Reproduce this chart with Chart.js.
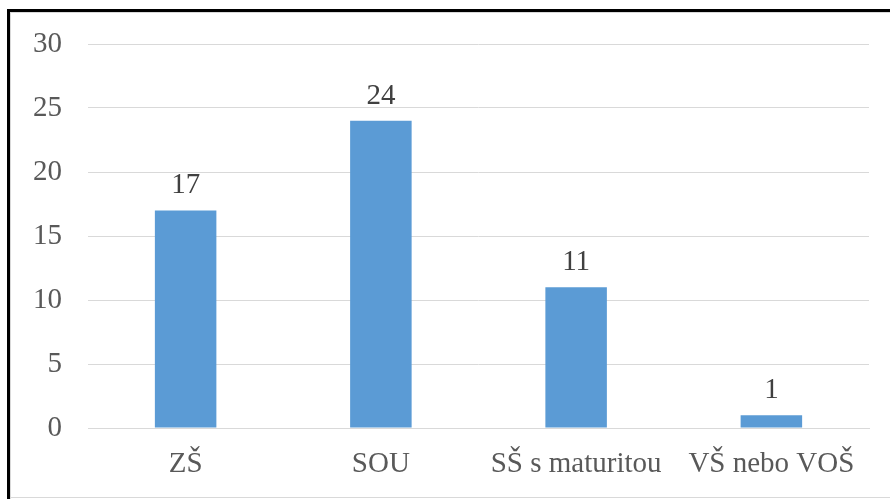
<!DOCTYPE html>
<html>
<head>
<meta charset="utf-8">
<script src="https://cdn.jsdelivr.net/npm/chart.js@4"></script>
<style>
  html, body { margin: 0; padding: 0; background: #fff; }
  canvas { position: absolute; left: 0; top: 0; }
</style>
</head>
<body>
<canvas id="chart" width="890" height="499"></canvas>
<script>
const categories = ["ZŠ", "SOU", "SŠ s maturitou", "VŠ nebo VOŠ"];
const counts = [17, 24, 11, 1];
const yTicks = [0, 5, 10, 15, 20, 25, 30];

const fam = "'Liberation Serif', serif";

Chart.defaults.font.family = fam;
Chart.defaults.font.size = 29;
Chart.defaults.color = "#595959";

// outer frame of the picture
const frame = {
  id: "frame",
  beforeDraw(chart) {
    const ctx = chart.ctx;
    ctx.save();
    ctx.fillStyle = "#000";
    ctx.fillRect(7, 9, chart.width - 7, 3);
    ctx.fillRect(7, 9, 3, chart.height - 9);
    ctx.fillStyle = "#d9d9d9";
    ctx.fillRect(10, 12, chart.width - 10, 1);
    ctx.fillRect(10, 12, 1, chart.height - 12);
    ctx.fillRect(10, chart.height - 2, chart.width - 10, 1);
    ctx.restore();
  }
};

// labels above each bar
const valueLabels = {
  id: "valueLabels",
  afterDatasetsDraw(chart) {
    const ctx = chart.ctx;
    const meta = chart.getDatasetMeta(0);
    ctx.save();
    ctx.font = "29px " + fam;
    ctx.fillStyle = "#404040";
    ctx.textAlign = "center";
    meta.data.forEach((bar, i) => {
      ctx.fillText(String(counts[i]), bar.x, bar.y - 17);
    });
    ctx.restore();
  }
};

new Chart(document.getElementById("chart").getContext("2d"), {
  type: "bar",
  data: {
    labels: categories,
    datasets: [{
      data: counts,
      backgroundColor: "#5b9bd5",
      barPercentage: 0.315,
      categoryPercentage: 1
    }]
  },
  options: {
    responsive: false,
    animation: false,
    layout: { padding: { top: 44, right: 21 } },
    plugins: { legend: { display: false }, tooltip: { enabled: false } },
    scales: {
      x: {
        grid: { display: false, drawTicks: false },
        border: { color: "#d9d9d9" },
        ticks: { padding: 19, maxRotation: 0, autoSkip: false },
        afterFit(scale) { scale.height = 71; }
      },
      y: {
        min: 0,
        max: 30,
        afterBuildTicks(scale) { scale.ticks = yTicks.map(v => ({ value: v })); },
        grid: { color: "#d9d9d9", drawTicks: false },
        border: { display: false },
        ticks: { padding: 26 },
        afterFit(scale) { scale.width = 88; }
      }
    }
  },
  plugins: [frame, valueLabels]
});
</script>
</body>
</html>
